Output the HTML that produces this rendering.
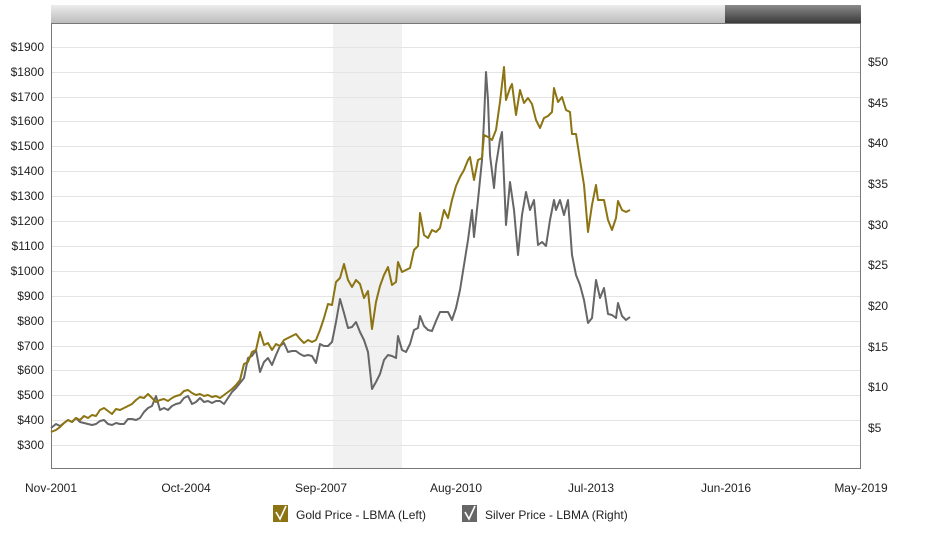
<!DOCTYPE html>
<html><head><meta charset="utf-8"><style>
body{margin:0;background:#fff;font-family:"Liberation Sans",sans-serif;}
</style></head><body>
<svg width="929" height="535" xmlns="http://www.w3.org/2000/svg" style="display:block">
<defs>
<linearGradient id="g1" x1="0" y1="0" x2="0" y2="1"><stop offset="0" stop-color="#ececec"/><stop offset="1" stop-color="#bcbcbc"/></linearGradient>
<linearGradient id="g2" x1="0" y1="0" x2="0" y2="1"><stop offset="0" stop-color="#8a8a8a"/><stop offset="1" stop-color="#3a3a3a"/></linearGradient>
</defs>
<rect x="51" y="5" width="674" height="18" fill="url(#g1)"/>
<rect x="725" y="5" width="136" height="18" fill="url(#g2)"/>
<rect x="333" y="23" width="69" height="446" fill="#f1f1f1"/>
<g stroke="#e4e4e4" stroke-width="1">
<line x1="51" x2="861" y1="47.5" y2="47.5"/><line x1="51" x2="861" y1="72.5" y2="72.5"/><line x1="51" x2="861" y1="97.5" y2="97.5"/><line x1="51" x2="861" y1="121.5" y2="121.5"/><line x1="51" x2="861" y1="146.5" y2="146.5"/><line x1="51" x2="861" y1="171.5" y2="171.5"/><line x1="51" x2="861" y1="196.5" y2="196.5"/><line x1="51" x2="861" y1="221.5" y2="221.5"/><line x1="51" x2="861" y1="246.5" y2="246.5"/><line x1="51" x2="861" y1="271.5" y2="271.5"/><line x1="51" x2="861" y1="296.5" y2="296.5"/><line x1="51" x2="861" y1="321.5" y2="321.5"/><line x1="51" x2="861" y1="346.5" y2="346.5"/><line x1="51" x2="861" y1="370.5" y2="370.5"/><line x1="51" x2="861" y1="395.5" y2="395.5"/><line x1="51" x2="861" y1="420.5" y2="420.5"/><line x1="51" x2="861" y1="445.5" y2="445.5"/>
</g>
<rect x="51.5" y="23.5" width="809" height="445" fill="none" stroke="#777" stroke-width="1"/>
<g font-size="12" fill="#222" text-anchor="end">
<text x="44" y="51">$1900</text><text x="44" y="76">$1800</text><text x="44" y="101">$1700</text><text x="44" y="125">$1600</text><text x="44" y="150">$1500</text><text x="44" y="175">$1400</text><text x="44" y="200">$1300</text><text x="44" y="225">$1200</text><text x="44" y="250">$1100</text><text x="44" y="275">$1000</text><text x="44" y="300">$900</text><text x="44" y="325">$800</text><text x="44" y="350">$700</text><text x="44" y="374">$600</text><text x="44" y="399">$500</text><text x="44" y="424">$400</text><text x="44" y="449">$300</text>
</g>
<g font-size="12" fill="#222">
<text x="868" y="66">$50</text><text x="868" y="107">$45</text><text x="868" y="147">$40</text><text x="868" y="188">$35</text><text x="868" y="229">$30</text><text x="868" y="269">$25</text><text x="868" y="310">$20</text><text x="868" y="351">$15</text><text x="868" y="391">$10</text><text x="868" y="432">$5</text>
</g>
<g font-size="12" fill="#222" text-anchor="middle">
<text x="51" y="492">Nov-2001</text><text x="186" y="492">Oct-2004</text><text x="321" y="492">Sep-2007</text><text x="456" y="492">Aug-2010</text><text x="591" y="492">Jul-2013</text><text x="726" y="492">Jun-2016</text><text x="861" y="492">May-2019</text>
</g>
<polyline fill="none" stroke="#666" stroke-width="2" stroke-linejoin="round" points="51,428 56,424 60,426 64,423 68,420 72,422 76,418 80,422 84,423 88,424 92,425 96,424 100,421 104,420 108,424 112,425 116,423 120,424 124,424 128,419 132,419 136,420 140,418 144,412 148,408 152,406 156,396 160,410 164,408 168,410 172,406 176,404 180,403 184,398 188,396 192,404 196,402 200,398 204,402 208,401 212,403 216,401 220,401 224,404 228,398 232,392 236,388 240,383 244,378 248,358 252,356 256,350 260,372 264,362 268,358 272,365 276,355 280,346 284,343 288,352 292,351 296,351 300,354 304,356 308,355 312,356 316,363 320,344 324,346 328,346 332,342 336,322 340,299 344,313 348,328 352,327 356,322 360,332 364,340 368,352 372,389 376,382 380,374 384,360 388,355 392,356 396,358 398,336 402,350 406,352 410,344 414,330 418,328 420,316 424,326 428,330 432,331 436,321 440,312 444,312 448,312 452,320 456,308 460,290 464,265 468,240 472,210 474,237 478,200 482,160 484,120 486,72 488,100 490,155 494,188 496,165 500,140 502,132 506,225 510,182 514,210 518,255 522,215 526,192 530,210 534,200 538,245 542,242 546,246 550,220 554,200 556,210 560,200 564,215 568,200 572,255 576,275 580,285 584,300 588,323 592,318 596,280 600,298 604,288 608,314 612,315 616,318 618,303 622,316 626,320 630,317"/>
<polyline fill="none" stroke="#8c7412" stroke-width="2" stroke-linejoin="round" points="51,432 56,430 60,427 64,423 68,420 72,422 76,418 80,420 84,416 88,418 92,415 96,416 100,410 104,408 108,411 112,414 116,409 120,410 124,408 128,406 132,404 136,400 140,397 144,398 148,394 152,398 156,402 160,400 164,399 168,401 172,398 176,396 180,395 184,391 188,390 192,393 196,395 200,394 204,396 208,395 212,397 216,396 220,398 224,395 228,392 232,389 236,385 240,380 244,364 248,362 252,352 256,350 260,332 264,345 268,343 272,350 276,344 280,346 284,340 288,338 292,336 296,334 300,339 304,343 308,340 312,342 316,340 320,330 324,318 328,304 332,305 336,282 340,278 344,264 348,280 352,287 356,280 360,284 364,298 368,291 372,329 376,302 380,286 384,275 388,267 392,285 396,282 398,262 402,272 406,270 410,268 414,250 418,246 420,213 424,235 428,238 432,230 436,232 440,228 444,210 448,218 452,200 456,186 460,177 464,170 468,160 470,157 474,180 478,160 482,158 484,135 488,137 492,140 496,130 500,102 504,67 506,100 510,88 512,84 516,115 520,90 524,103 528,98 532,104 536,120 540,128 544,118 548,116 552,112 554,88 558,102 562,97 566,110 570,112 572,134 576,134 580,160 584,185 588,232 592,205 596,185 598,200 604,200 608,220 612,230 616,218 618,201 622,210 626,212 630,210"/>
<rect x="273" y="505" width="15" height="17" fill="#8c7412"/>
<polyline points="276,512 280,519 286,506" fill="none" stroke="#fff" stroke-width="1.6"/>
<text x="296" y="519" font-size="12" fill="#222">Gold Price - LBMA (Left)</text>
<rect x="462" y="505" width="15" height="17" fill="#666"/>
<polyline points="465,512 469,519 475,506" fill="none" stroke="#fff" stroke-width="1.6"/>
<text x="485" y="519" font-size="12" fill="#222">Silver Price - LBMA (Right)</text>
</svg>
</body></html>
